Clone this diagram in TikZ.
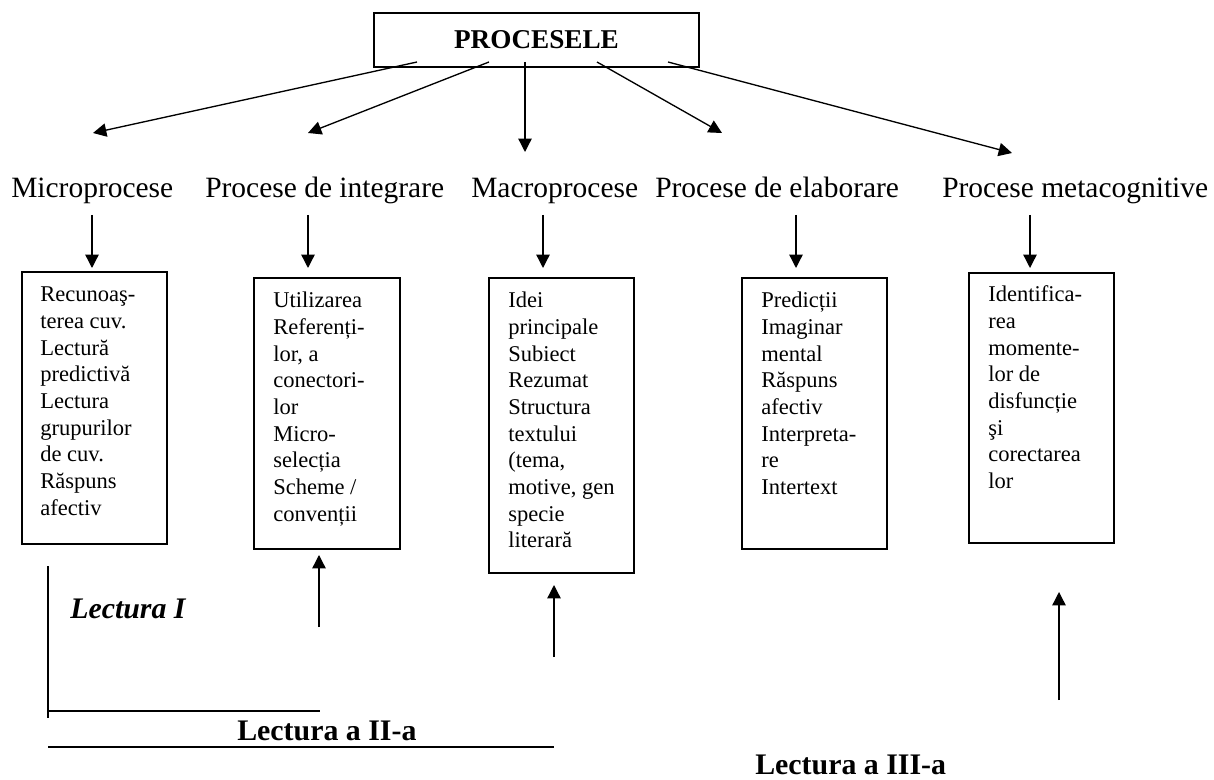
\documentclass[tikz,border=0pt]{standalone}
\usepackage{fontspec}
\setmainfont{Liberation Serif}
\usetikzlibrary{arrows.meta}
\begin{document}
\begin{tikzpicture}[x=0.75pt,y=-0.75pt,
  conn/.style={line width=1pt,-{Triangle[length=10pt,width=10pt]}},
  plain/.style={line width=1pt},
  boxn/.style={draw,line width=1.4pt,anchor=north west,inner sep=0pt,fill=none},
  lab/.style={anchor=base west,inner sep=0pt,font=\fontsize{22.1pt}{26pt}\selectfont},
  btxt/.style={anchor=base west,inner sep=0pt,font=\fontsize{16.9pt}{20pt}\selectfont},
  bold/.style={anchor=base west,inner sep=0pt,font=\fontsize{22.4pt}{26pt}\selectfont\bfseries}
]
\useasboundingbox (0,0) rectangle (1214,780);

% top box
\node[draw,line width=1.4pt,minimum width=243.75pt,minimum height=40.5pt,inner sep=0pt,
      font=\fontsize{20.4pt}{24pt}\selectfont\bfseries] (top) at (536.5,40) {PROCESELE};

% arrow start and end points
\coordinate (s1) at (417,62); \coordinate (e1) at (93,133);
\coordinate (s2) at (489,62); \coordinate (e2) at (308,133);
\coordinate (s3) at (525,62); \coordinate (e3) at (525,152);
\coordinate (s4) at (597,62); \coordinate (e4) at (722,133);
\coordinate (s5) at (668,62); \coordinate (e5) at (1012,153);
\foreach \i in {1,...,5}{\draw[conn] (s\i) -- (e\i);}

% labels
\node[lab] (l1) at (11,198) {Microprocese};
\node[lab] (l2) at (205,198) {Procese de integrare};
\node[lab] (l3) at (471,198) {Macroprocese};
\node[lab] (l4) at (655,198) {Procese de elaborare};
\node[lab] (l5) at (942,198) {Procese metacognitive};

% boxes
\node[boxn,minimum width=108.75pt,minimum height=204pt] (b1) at (21,271) {};
\node[boxn,minimum width=109.5pt,minimum height=203.25pt] (b2) at (253,277) {};
\node[boxn,minimum width=108.75pt,minimum height=221.25pt] (b3) at (488,277) {};
\node[boxn,minimum width=108.75pt,minimum height=203.25pt] (b4) at (741,277) {};
\node[boxn,minimum width=108.75pt,minimum height=202.5pt] (b5) at (968,272) {};

% down arrows label -> box
\coordinate (d1a) at (92,215);  \coordinate (d1b) at (92,268);
\coordinate (d2a) at (308,215); \coordinate (d2b) at (308,268);
\coordinate (d3a) at (543,215); \coordinate (d3b) at (543,268);
\coordinate (d4a) at (796,215); \coordinate (d4b) at (796,268);
\coordinate (d5a) at (1030,215); \coordinate (d5b) at (1030,268);
\foreach \i in {1,...,5}{\draw[conn] (d\i a) -- (d\i b);}

% box texts
\node[btxt] (t1) at (40,302) {\begin{tabular}[t]{@{}l@{}}Recunoaş-\\terea cuv.\\Lectură\\predictivă\\Lectura\\grupurilor\\de cuv.\\Răspuns\\afectiv\end{tabular}};
\node[btxt] (t2) at (273,308) {\begin{tabular}[t]{@{}l@{}}Utilizarea\\Referenți-\\lor, a\\conectori-\\lor\\Micro-\\selecția\\Scheme /\\convenții\end{tabular}};
\node[btxt] (t3) at (508,308) {\begin{tabular}[t]{@{}l@{}}Idei\\principale\\Subiect\\Rezumat\\Structura\\textului\\(tema,\\motive, gen\\specie\\literară\end{tabular}};
\node[btxt] (t4) at (761,308) {\begin{tabular}[t]{@{}l@{}}Predicții\\Imaginar\\mental\\Răspuns\\afectiv\\Interpreta-\\re\\Intertext\end{tabular}};
\node[btxt] (t5) at (988,302) {\begin{tabular}[t]{@{}l@{}}Identifica-\\rea\\momente-\\lor de\\disfuncție\\şi\\corectarea\\lor\end{tabular}};

% up arrows
\coordinate (u2a) at (319,627); \coordinate (u2b) at (319,555);
\coordinate (u3a) at (554,657); \coordinate (u3b) at (554,585);
\coordinate (u5a) at (1059,700); \coordinate (u5b) at (1059,592);
\draw[conn] (u2a) -- (u2b);
\draw[conn] (u3a) -- (u3b);
\draw[conn] (u5a) -- (u5b);

% reading brackets
\coordinate (v1) at (48,566); \coordinate (v2) at (48,718);
\coordinate (h1) at (48,711); \coordinate (h2) at (320,711);
\coordinate (g1) at (48,747); \coordinate (g2) at (554,747);
\draw[plain] (v1) -- (v2);
\draw[plain] (h1) -- (h2);
\draw[plain] (g1) -- (g2);

\node[bold,font=\fontsize{22.4pt}{26pt}\selectfont\bfseries\itshape] (lec1) at (70,618) {Lectura I};
\node[bold] (lec2) at (237,740) {Lectura a II-a};
\node[bold] (lec3) at (755,774) {Lectura a III-a};
\end{tikzpicture}
\end{document}
